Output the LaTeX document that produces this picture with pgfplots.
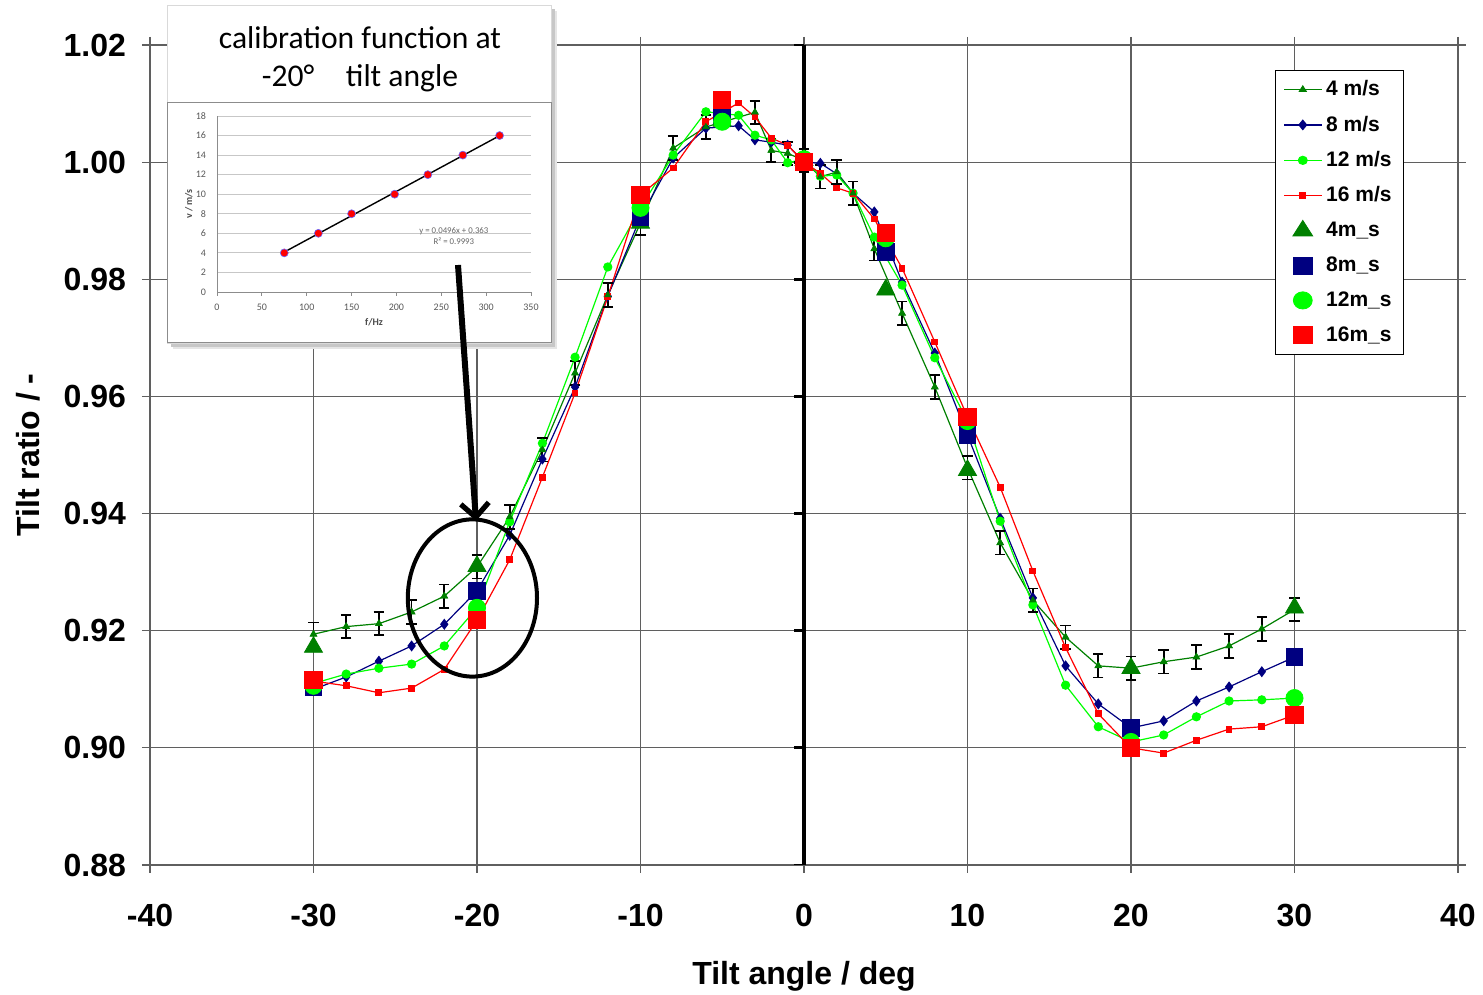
\documentclass[border=0pt]{standalone}
\usepackage{fontspec}
\setmainfont{Liberation Sans}
\newfontfamily\calibri{Carlito}
\usepackage{pgfplots}
\pgfplotsset{compat=1.18}
\usetikzlibrary{arrows.meta}
\definecolor{dgreen}{RGB}{0,128,0}
\definecolor{navy}{RGB}{0,0,128}
\definecolor{lgreen}{RGB}{0,255,0}
\definecolor{gridc}{RGB}{95,95,95}
\begin{document}
\begin{tikzpicture}
\useasboundingbox (0,0) rectangle (741.5pt,497.5pt);
\begin{axis}[
  at={(75pt,65pt)}, anchor=south west,
  width=654pt, height=410pt, scale only axis,
  xmin=-40, xmax=40, ymin=0.88, ymax=1.02,
  xtick={-40,-30,-20,-10,0,10,20,30,40},
  xticklabels={-40,-30,-20,-10,0,10,20,30,40},
  ytick={0.88,0.9,0.92,0.94,0.96,0.98,1,1.02},
  yticklabels={0.88,0.90,0.92,0.94,0.96,0.98,1.00,1.02},
  grid=major, grid style={gridc, line width=0.6pt},
  axis line style={gridc, line width=0.8pt},
  tick align=outside, major tick length=4pt,
  tick style={gridc, line width=0.6pt},
  ticklabel style={font=\bfseries\fontsize{16}{16}\selectfont},
  xticklabel style={yshift=-12pt},
  yticklabel style={xshift=-4.5pt},
  xlabel={Tilt angle / deg}, ylabel={Tilt ratio / -},
  label style={font=\bfseries\fontsize{16}{16}\selectfont},
  xlabel style={at={(axis description cs:0.5,-0.1463)}, anchor=base},
  ylabel style={at={(axis description cs:-0.0841,0.5)}, anchor=base},
  legend style={at={(rel axis cs:0.8601,0.9695)}, anchor=north west,
    draw=black, font=\bfseries\fontsize{10.5}{12}\selectfont,
    row sep=4.6pt, inner xsep=4pt, inner ysep=3pt},
  legend cell align=left,
  legend image post style={xscale=1.1},
]
% lines
\addplot[dgreen, line width=0.6pt, mark=triangle*, mark size=1.7pt] coordinates {
(-30,0.9194)(-28,0.9207)(-26,0.9212)(-24,0.9232)(-22,0.9259)(-20,0.9309)(-18,0.9394)(-16,0.9509)(-14,0.9640)(-12,0.9773)(-10,0.9896)(-8,1.0024)(-6,1.0060)(-3,1.0085)(-2,1.0020)(-1,1.0015)(0,1.0003)(1,0.9975)(2,0.9983)(3,0.9947)(4.3,0.9852)(6,0.9742)(8,0.9616)(10,0.9478)(12,0.9350)(14,0.9252)(16,0.9189)(18,0.9140)(20,0.9136)(22,0.9147)(24,0.9155)(26,0.9174)(28,0.9203)(30,0.9236)};
\addlegendentry{4 m/s}
\addplot[navy, line width=0.6pt, mark=diamond*, mark size=2.3pt] coordinates {
(-30,0.9100)(-28,0.9121)(-26,0.9148)(-24,0.9174)(-22,0.9211)(-20,0.9268)(-18,0.9363)(-16,0.9493)(-14,0.9616)(-12,0.9771)(-10,0.9906)(-8,1.0007)(-6,1.0058)(-4,1.0062)(-3,1.0038)(-2,1.0034)(-1,1.0029)(0,1.0000)(1,0.9998)(2,0.9980)(3,0.9947)(4.3,0.9915)(6,0.9795)(8,0.9674)(10,0.9534)(12,0.9392)(14,0.9256)(16,0.9140)(18,0.9075)(20,0.9034)(22,0.9046)(24,0.9080)(26,0.9104)(28,0.9130)(30,0.9155)};
\addlegendentry{8 m/s}
\addplot[lgreen, line width=0.6pt, mark=*, mark size=2pt] coordinates {
(-30,0.9110)(-28,0.9126)(-26,0.9136)(-24,0.9143)(-22,0.9174)(-20,0.9239)(-18,0.9386)(-16,0.9520)(-14,0.9667)(-12,0.9821)(-10,0.9922)(-8,1.0012)(-6,1.0086)(-4,1.0080)(-3,1.0046)(-2,1.0038)(-1,0.9999)(0,1.0005)(1,0.9976)(2,0.9978)(3,0.9947)(4.3,0.9872)(6,0.9790)(8,0.9666)(10,0.9558)(12,0.9387)(14,0.9244)(16,0.9107)(18,0.9036)(20,0.9010)(22,0.9022)(24,0.9053)(26,0.9080)(28,0.9082)(30,0.9085)};
\addlegendentry{12 m/s}
\addplot[red, line width=0.6pt, mark=square*, mark size=1.4pt] coordinates {
(-30,0.9114)(-28,0.9106)(-26,0.9094)(-24,0.9102)(-22,0.9134)(-20,0.9218)(-18,0.9321)(-16,0.9462)(-14,0.9606)(-12,0.9770)(-10,0.9944)(-8,0.9990)(-6,1.0069)(-4,1.0101)(-3,1.0077)(-2,1.0041)(-1,1.0029)(0,1.0000)(1,0.9981)(2,0.9956)(3,0.9947)(4.3,0.9903)(6,0.9819)(8,0.9693)(10,0.9565)(12,0.9445)(14,0.9302)(16,0.9171)(18,0.9058)(20,0.9000)(22,0.8991)(24,0.9013)(26,0.9032)(28,0.9036)(30,0.9056)};
\addlegendentry{16 m/s}
% error bars of the 4 m/s series
\addplot[forget plot, only marks, dgreen, mark=triangle*, mark size=1.7pt,
  error bars/.cd, y dir=both, y explicit,
  error bar style={draw=black, line width=0.9pt},
  error mark options={rotate=90, mark size=2.6pt, line width=0.9pt, draw=black}]
 coordinates {
(-30,0.9194)+-(0,0.002)(-28,0.9207)+-(0,0.002)(-26,0.9212)+-(0,0.002)(-24,0.9232)+-(0,0.002)(-22,0.9259)+-(0,0.002)(-20,0.9309)+-(0,0.002)(-18,0.9394)+-(0,0.002)(-16,0.9509)+-(0,0.002)(-14,0.9640)+-(0,0.002)(-12,0.9773)+-(0,0.002)(-10,0.9896)+-(0,0.002)(-8,1.0024)+-(0,0.002)(-6,1.0060)+-(0,0.002)(-3,1.0085)+-(0,0.002)(-2,1.0020)+-(0,0.002)(-1,1.0015)+-(0,0.002)(0,1.0003)+-(0,0.002)(1,0.9975)+-(0,0.002)(2,0.9983)+-(0,0.002)(3,0.9947)+-(0,0.002)(4.3,0.9852)+-(0,0.002)(6,0.9742)+-(0,0.002)(8,0.9616)+-(0,0.002)(10,0.9478)+-(0,0.002)(12,0.9350)+-(0,0.002)(14,0.9252)+-(0,0.002)(16,0.9189)+-(0,0.002)(18,0.9140)+-(0,0.002)(20,0.9136)+-(0,0.002)(22,0.9147)+-(0,0.002)(24,0.9155)+-(0,0.002)(26,0.9174)+-(0,0.002)(28,0.9203)+-(0,0.002)(30,0.9236)+-(0,0.002)};
% big markers
\addplot[only marks, dgreen, mark=triangle*, mark size=5.2pt] coordinates {
(-30,0.9172)(-20,0.9310)(-10,0.9896)(-5,1.0070)(0,1.0003)(5,0.9782)(10,0.9474)(20,0.9136)(30,0.9239)};
\addlegendentry{4m\_s}
\addplot[only marks, navy, mark=square*, mark size=4.2pt] coordinates {
(-30,0.9104)(-20,0.9268)(-10,0.9906)(-5,1.0080)(0,1.0000)(5,0.9847)(10,0.9534)(20,0.9034)(30,0.9155)};
\addlegendentry{8m\_s}
\addplot[only marks, lgreen, mark=*, mark size=4.3pt] coordinates {
(-30,0.9106)(-20,0.9239)(-10,0.9922)(-5,1.0069)(0,1.0005)(5,0.9870)(10,0.9558)(20,0.9010)(30,0.9085)};
\addlegendentry{12m\_s}
\addplot[only marks, red, mark=square*, mark size=4.3pt] coordinates {
(-30,0.9116)(-20,0.9218)(-10,0.9944)(-5,1.0106)(0,1.0000)(5,0.9879)(10,0.9565)(20,0.9000)(30,0.9056)};
\addlegendentry{16m\_s}
% thick vertical axis at x = 0
\draw[black, line width=2pt] (axis cs:0,0.88) -- (axis cs:0,1.02);
\pgfplotsinvokeforeach{0.88,0.9,0.92,0.94,0.96,0.98,1,1.02}{
  \draw[black, line width=1.4pt] (axis cs:0,#1) -- ([xshift=-5pt]axis cs:0,#1);
}
\end{axis}
% inset frame with shadow
\fill[black!10] (86.5pt,323pt) rectangle (278.5pt,492pt);
\fill[black!22] (85.5pt,324pt) rectangle (277.5pt,493pt);
\fill[white] (83.5pt,326pt) rectangle (275.5pt,495pt);
\draw[black!15, line width=0.4pt] (83.5pt,326pt) rectangle (275.5pt,495pt);
\draw[black!45, line width=0.5pt] (83.5pt,326pt) rectangle (275.5pt,446pt);
\node[font=\calibri\fontsize{15.8}{19}\selectfont, align=center] at (180pt,468pt)
  {calibration function at\\-20°\quad tilt angle};
\begin{axis}[
  at={(108.5pt,351.5pt)}, anchor=south west,
  width=157pt, height=88pt, scale only axis,
  xmin=0, xmax=350, ymin=0, ymax=18,
  xtick={0,50,100,150,200,250,300,350},
  ytick={0,2,4,6,8,10,12,14,16,18},
  ymajorgrids, grid style={black!22, line width=0.4pt},
  axis x line*=bottom, axis y line*=left,
  axis line style={black!45, line width=0.4pt, -},
  tick align=outside, major tick length=2pt,
  xtick style={black!45, line width=0.4pt}, ytick style={draw=none},
  /pgf/number format/assume math mode=true,
  ticklabel style={font=\calibri\fontsize{5}{5}\selectfont, text=black!65},
  xticklabel style={yshift=-0.5pt},
  xlabel={f/Hz}, ylabel={v / m/s},
  label style={font=\calibri\bfseries\fontsize{5}{5}\selectfont, text=black!70},
  xlabel style={at={(axis description cs:0.5,-0.17)}, anchor=center},
  ylabel style={at={(axis description cs:-0.09,0.5)}, anchor=center},
]
\addplot[black, line width=0.7pt, mark=none] coordinates {(75,4.083)(315,15.987)};
\addplot[only marks, mark=*, mark size=2pt, mark options={fill=red, draw=blue!60, line width=0.3pt}] coordinates {
(75,4)(113,6)(150,8)(198,10)(235,12)(274,14)(315,16)};
\node[font=\calibri\fontsize{4.4}{5.3}\selectfont, text=black!60, align=center] at (axis cs:264,5.7)
  {y = 0.0496x + 0.363\\R² = 0.9993};
\end{axis}
% arrow and ellipse
\draw[black, line width=3pt, -{Straight Barb[length=7pt, width=14pt, line width=2.6pt]}] (229pt,365pt) -- (238pt,237pt);
\draw[black, line width=2pt] (236.2pt,198.5pt) ellipse [x radius=32.3pt, y radius=39.3pt];
\end{tikzpicture}
\end{document}
